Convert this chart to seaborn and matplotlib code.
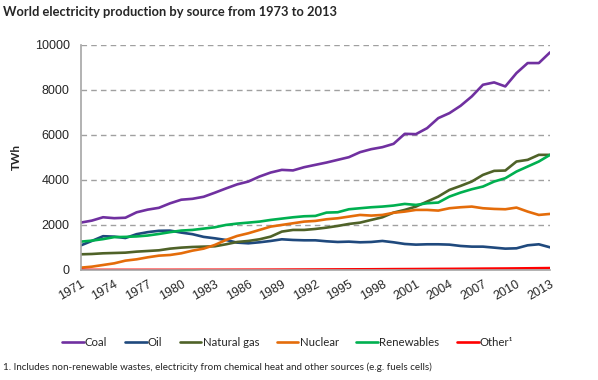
import matplotlib
matplotlib.use("Agg")
import matplotlib.pyplot as plt
import seaborn as sns
import pandas as pd
import numpy as np

years = list(range(1971, 2014))

coal = [2103, 2192, 2341, 2300, 2320, 2560, 2680, 2760, 2960, 3120,
        3160, 3250, 3430, 3620, 3800, 3926, 4148, 4326, 4444, 4420,
        4563, 4667, 4770, 4889, 5007, 5230, 5363, 5452, 5600, 6044,
        6030, 6296, 6741, 6963, 7289, 7704, 8222, 8326, 8148, 8741,
        9185, 9185, 9659]
oil = [1090, 1290, 1500, 1481, 1420, 1590, 1680, 1740, 1748, 1660,
       1590, 1470, 1407, 1333, 1215, 1185, 1230, 1289, 1363, 1333,
       1318, 1318, 1274, 1244, 1259, 1230, 1244, 1289, 1230, 1156,
       1126, 1141, 1141, 1126, 1067, 1037, 1037, 993, 948, 963,
       1096, 1141, 1007]
gas = [696, 711, 741, 755, 770, 815, 844, 874, 948, 993,
       1022, 1037, 1052, 1141, 1244, 1289, 1363, 1481, 1704, 1778,
       1778, 1822, 1881, 1955, 2044, 2103, 2222, 2340, 2548, 2667,
       2815, 3037, 3259, 3555, 3733, 3926, 4222, 4400, 4415, 4815,
       4889, 5111, 5111]
nuclear = [104, 148, 222, 296, 415, 474, 563, 637, 667, 741,
           859, 948, 1111, 1333, 1511, 1630, 1778, 1926, 2000, 2074,
           2148, 2178, 2252, 2296, 2370, 2444, 2415, 2444, 2540, 2593,
           2667, 2667, 2637, 2741, 2785, 2815, 2741, 2711, 2696, 2770,
           2593, 2444, 2489]
renewables = [1259, 1303, 1370, 1460, 1470, 1490, 1530, 1600, 1680, 1750,
              1778, 1837, 1896, 2000, 2060, 2103, 2148, 2222, 2281, 2340,
              2385, 2400, 2548, 2563, 2696, 2741, 2785, 2815, 2860, 2933,
              2889, 2963, 2993, 3259, 3437, 3585, 3704, 3926, 4074, 4370,
              4593, 4815, 5111]
other = [5, 5, 5, 6, 6, 6, 7, 7, 7, 8,
         8, 9, 9, 10, 11, 12, 13, 14, 16, 18,
         20, 22, 24, 26, 28, 30, 32, 35, 38, 40,
         42, 45, 48, 50, 53, 56, 60, 63, 66, 70,
         75, 80, 85]

sources = ["Coal", "Oil", "Natural gas", "Nuclear", "Renewables", "Other\u00b9"]
series = [coal, oil, gas, nuclear, renewables, other]
colors = ["#7030A0", "#1F497D", "#4F6228", "#E46C0A", "#00B050", "#FF0000"]
xtick_years = list(range(1971, 2014, 3))
yticks = [0, 2000, 4000, 6000, 8000, 10000]

title = "World electricity production by source from 1973 to 2013"
footnote = "1. Includes non-renewable wastes, electricity from chemical heat and other sources (e.g. fuels cells)"

df = pd.concat([pd.DataFrame({"Year": years, "TWh": s, "Source": name})
                for name, s in zip(sources, series)], ignore_index=True)

sns.set_style("white")
plt.rcParams['font.family'] = ['Liberation Sans', 'DejaVu Sans']

fig = plt.figure(figsize=(5.98, 3.80), dpi=100)
ax = fig.add_axes([80.7/598, 1-270/380, (550-80.7)/598, (270-44.7)/380])

sns.lineplot(data=df, x="Year", y="TWh", hue="Source", hue_order=sources,
             palette=dict(zip(sources, colors)), linewidth=1.9, ax=ax,
             legend=True)

ax.set_xlim(1971, 2013)
ax.set_ylim(0, 10000)
ax.set_xticks(xtick_years)
ax.set_xticklabels([str(y) for y in xtick_years], rotation=30, ha='right',
                   rotation_mode='anchor', fontsize=9)
ax.set_yticks(yticks)
ax.set_yticklabels([str(v) for v in yticks], fontsize=9)
ax.tick_params(axis='both', direction='out', length=4, color='#A6A6A6', width=1)
ax.tick_params(axis='x', pad=2)
ax.tick_params(axis='y', pad=4)
ax.set_xlabel("")
ax.set_ylabel("")

for sp in ["top", "right"]:
    ax.spines[sp].set_visible(False)
for sp in ["left", "bottom"]:
    ax.spines[sp].set_color('#A6A6A6')
    ax.spines[sp].set_linewidth(1.2)

for v in yticks[1:]:
    ax.axhline(v, color='#A0A0A0', linestyle=(0, (4, 3)), linewidth=1.0, zorder=0)

handles, labels = ax.get_legend_handles_labels()
ax.get_legend().remove()
leg = fig.legend(handles, labels, loc='center', bbox_to_anchor=(0.481, 1-342/380),
                 ncol=6, frameon=False, handlelength=1.9, handletextpad=0.1,
                 columnspacing=1.55, prop={'family': 'Lato', 'size': 8.2})

fig.text(3/598, 1-12/380, title, fontsize=9.3, fontweight='bold', family='Lato',
         va='center', ha='left')
fig.text(16/598, 1-157/380, "TWh", fontsize=8.5, fontweight='bold', family='Lato',
         rotation=90, va='center', ha='center')
fig.text(3/598, 1-367/380, footnote, fontsize=7.1, family='Lato', va='center', ha='left')

fig.savefig("out.png", dpi=100)
